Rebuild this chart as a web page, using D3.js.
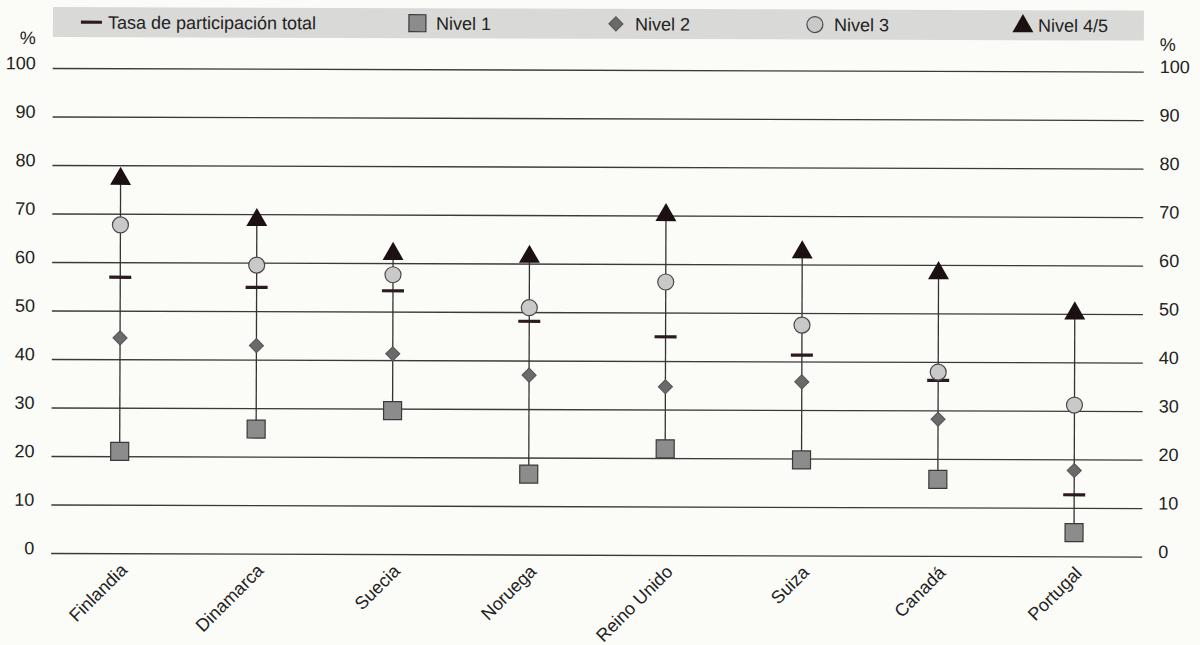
<!DOCTYPE html>
<html>
<head>
<meta charset="utf-8">
<script src="https://cdn.jsdelivr.net/npm/d3@7"></script>
<style>
  body { margin: 0; background: #fbfbf7; }
  svg { display: block; font-family: "Liberation Sans", Arial, sans-serif; }
  .axis text { font-family: "Liberation Sans", Arial, sans-serif; font-size: 18px; fill: #222; }
</style>
</head>
<body>
<svg id="chart"></svg>
<script>
const countries = ["Finlandia", "Dinamarca", "Suecia", "Noruega", "Reino Unido", "Suiza", "Canadá", "Portugal"];
const total   = [56.9, 54.9, 54.3, 48.1, 45.0, 41.3, 36.2, 12.7];
const nivel1  = [21.0, 25.7, 29.6, 16.6, 21.9, 19.7, 15.8, 4.9];
const nivel2  = [44.4, 42.9, 41.3, 37.0, 34.7, 35.8, 28.2, 17.7];
const nivel3  = [67.7, 59.5, 57.6, 50.9, 56.3, 47.5, 37.9, 31.2];
const nivel45 = [77.2, 68.8, 61.9, 61.4, 70.1, 62.5, 58.3, 50.1];
const yTicks  = [0, 10, 20, 30, 40, 50, 60, 70, 80, 90, 100];
const legendLabels = ["Tasa de participación total", "Nivel 1", "Nivel 2", "Nivel 3", "Nivel 4/5"];

(function () {
    document.addEventListener("DOMContentLoaded", () => {
        const width = 1200, height = 645;
        const left = 52, right = 1143, top = 68, bottom = 553;

        const svg = d3.select("#chart")
            .attr("width", width)
            .attr("height", height);

        // the scan is tilted a little, right side sits lower
        const g = svg.append("g").attr("transform", `rotate(0.19, ${left}, 300)`);

        const x = d3.scalePoint().domain(countries).range([left, right]).padding(0.5);
        const y = d3.scaleLinear().domain([0, 100]).range([bottom, top]);

        // legend band
        g.append("rect")
            .attr("x", left).attr("y", 7)
            .attr("width", right - left).attr("height", 30)
            .style("fill", "#d9d9d7");

        const ly = 22;
        g.append("rect").attr("x", 80).attr("y", ly - 1.5).attr("width", 21).attr("height", 3.2).style("fill", "#2b1a20");
        g.append("rect").attr("x", 408).attr("y", ly - 8.5).attr("width", 17).attr("height", 17)
            .style("fill", "#8c8c8c").style("stroke", "#3a3a3a").style("stroke-width", 1.2);
        g.append("path").attr("d", d3.symbol(d3.symbolSquare, 100)())
            .attr("transform", `translate(615,${ly}) rotate(45)`)
            .style("fill", "#6a6a6a").style("stroke", "#555");
        g.append("circle").attr("cx", 814).attr("cy", ly).attr("r", 8)
            .style("fill", "#c9c9c9").style("stroke", "#4a4a4a").style("stroke-width", 1.2);
        g.append("path").attr("d", d3.symbol(d3.symbolTriangle, 190)())
            .attr("transform", `translate(1022,${ly + 1})`)
            .style("fill", "#1b1012");

        g.selectAll("text.legend")
            .data(legendLabels)
            .enter()
            .append("text")
            .attr("class", "legend")
            .attr("x", (d, i) => [107, 435, 634, 833, 1037][i])
            .attr("y", ly + 6.5)
            .style("font-size", "18px")
            .style("fill", "#222")
            .text(d => d);

        // gridlines + left labels
        const yAxisL = g.append("g")
            .attr("class", "axis")
            .attr("transform", `translate(${left},0)`)
            .call(d3.axisLeft(y).tickValues(yTicks).tickSize(-(right - left)).tickPadding(17).tickFormat(d3.format("d")));
        yAxisL.select(".domain").remove();
        yAxisL.selectAll(".tick line").style("stroke", "#3a3a3a").style("stroke-width", 1.3);
        yAxisL.selectAll(".tick text").attr("dy", "0.05em");

        const yAxisR = g.append("g")
            .attr("class", "axis")
            .attr("transform", `translate(${right},0)`)
            .call(d3.axisRight(y).tickValues(yTicks).tickSize(0).tickPadding(16).tickFormat(d3.format("d")));
        yAxisR.select(".domain").remove();
        yAxisR.selectAll(".tick text").attr("dy", "0.05em");

        g.append("text").attr("x", 35).attr("y", 44).attr("text-anchor", "end")
            .style("font-size", "18px").style("fill", "#222").text("%");
        g.append("text").attr("x", 1159).attr("y", 47)
            .style("font-size", "18px").style("fill", "#222").text("%");

        // country labels
        g.selectAll("text.country")
            .data(countries)
            .enter()
            .append("text")
            .attr("class", "country")
            .attr("text-anchor", "end")
            .attr("transform", d => `translate(${x(d) + 9},${bottom + 18}) rotate(-45)`)
            .style("font-size", "18px")
            .style("fill", "#222")
            .text(d => d);

        const rows = countries.map((c, i) => ({
            c, t: total[i], n1: nivel1[i], n2: nivel2[i], n3: nivel3[i], n45: nivel45[i]
        }));

        const marks = g.selectAll("g.country")
            .data(rows)
            .enter()
            .append("g")
            .attr("class", "country")
            .attr("transform", d => `translate(${x(d.c)},0)`);

        marks.append("line")
            .attr("y1", d => y(d.n1))
            .attr("y2", d => y(d.n45))
            .style("stroke", "#333")
            .style("stroke-width", 1.3);

        marks.append("rect")
            .attr("x", -11).attr("width", 22)
            .attr("y", d => y(d.t) - 1.6).attr("height", 3.2)
            .style("fill", "#2b1a20");

        marks.append("path")
            .attr("d", d3.symbol(d3.symbolSquare, 100)())
            .attr("transform", d => `translate(0,${y(d.n2)}) rotate(45)`)
            .style("fill", "#6a6a6a")
            .style("stroke", "#555");

        marks.append("rect")
            .attr("x", -9).attr("width", 18)
            .attr("y", d => y(d.n1) - 9).attr("height", 18)
            .style("fill", "#8c8c8c")
            .style("stroke", "#3a3a3a")
            .style("stroke-width", 1.2);

        marks.append("circle")
            .attr("cy", d => y(d.n3))
            .attr("r", 8)
            .style("fill", "#c9c9c9")
            .style("stroke", "#4a4a4a")
            .style("stroke-width", 1.2);

        marks.append("path")
            .attr("d", d3.symbol(d3.symbolTriangle, 190)())
            .attr("transform", d => `translate(0,${y(d.n45)})`)
            .style("fill", "#1b1012");
    });
})();
</script>
</body>
</html>
